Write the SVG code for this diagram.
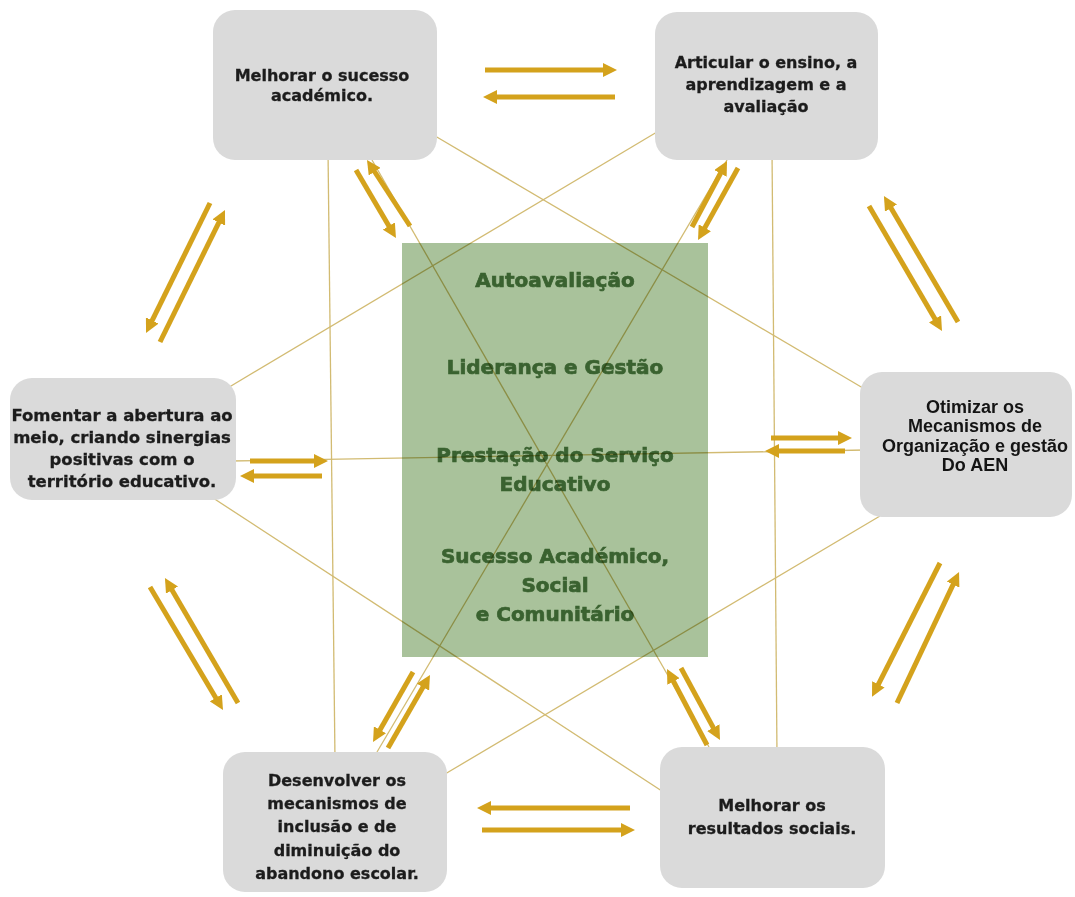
<svg xmlns="http://www.w3.org/2000/svg" width="1075" height="897" viewBox="0 0 1075 897">
  <defs>
    <marker id="head" markerUnits="userSpaceOnUse" viewBox="0 0 14 14" refX="5" refY="7" markerWidth="14" markerHeight="14" orient="auto">
      <path d="M0,0 L14,7 L0,14 z" fill="#d4a21c"/>
    </marker>
  </defs>
  <style>
    .box { fill: #dadada; }
    .core { fill: #a9c29b; }
    .lbl { font-family: "DejaVu Sans", Verdana, sans-serif; font-weight: bold; font-size: 16px; fill: #1c1c1c; stroke: #1c1c1c; stroke-width: 0.3; text-anchor: middle; }
    .lbl2 { font-family: "Liberation Sans", Arial, sans-serif; font-weight: bold; font-size: 18px; fill: #141414; text-anchor: middle; }
    .core-lbl { font-family: "DejaVu Sans", Verdana, sans-serif; font-weight: bold; font-size: 20px; fill: #3a6230; stroke: #3a6230; stroke-width: 0.7; text-anchor: middle; }
    .link { stroke: #d2bb72; stroke-width: 1.3; fill: none; }
    .arrow { stroke: #d4a21c; stroke-width: 5; fill: none; marker-end: url(#head); }
  </style>

  <rect width="1075" height="897" fill="#ffffff"/>

  <!-- central block -->
  <g id="center">
    <rect class="core" x="402" y="243" width="306" height="414"/>
    <text class="core-lbl" x="555" y="287">Autoavaliação</text>
    <text class="core-lbl" x="555" y="374">Liderança e Gestão</text>
    <text class="core-lbl" x="555" y="462">Prestação do Serviço</text>
    <text class="core-lbl" x="555" y="491">Educativo</text>
    <text class="core-lbl" x="555" y="563">Sucesso Académico,</text>
    <text class="core-lbl" x="555" y="592">Social</text>
    <text class="core-lbl" x="555" y="621">e Comunitário</text>
  </g>

  <!-- thin links between the objectives -->
  <g id="connectors" style="mix-blend-mode: multiply">
    <line class="link" x1="328" y1="150" x2="335" y2="760"/>
    <line class="link" x1="772" y1="150" x2="777" y2="755"/>
    <line class="link" x1="430" y1="133" x2="868" y2="391"/>
    <line class="link" x1="662" y1="129" x2="226" y2="389"/>
    <line class="link" x1="230" y1="461" x2="866" y2="450"/>
    <line class="link" x1="210" y1="496" x2="668" y2="795"/>
    <line class="link" x1="440" y1="777" x2="880" y2="516"/>
    <line class="link" x1="372" y1="160" x2="709" y2="747"/>
    <line class="link" x1="727" y1="160" x2="377" y2="752"/>
  </g>

  <g id="n1">
    <rect class="box" x="213" y="10" width="224" height="150" rx="22"/>
    <text class="lbl" x="322" y="81">Melhorar o sucesso</text>
    <text class="lbl" x="322" y="101">académico.</text>
  </g>
  <g id="n2">
    <rect class="box" x="655" y="12" width="223" height="148" rx="22"/>
    <text class="lbl" x="766" y="68">Articular o ensino, a</text>
    <text class="lbl" x="766" y="90">aprendizagem e a</text>
    <text class="lbl" x="766" y="112">avaliação</text>
  </g>
  <g id="n3">
    <rect class="box" x="10" y="378" width="226" height="122" rx="22"/>
    <text class="lbl" x="122" y="421" style="font-size:16.5px">Fomentar a abertura ao</text>
    <text class="lbl" x="122" y="443" style="font-size:16.5px">meio, criando sinergias</text>
    <text class="lbl" x="122" y="465" style="font-size:16.5px">positivas com o</text>
    <text class="lbl" x="122" y="487" style="font-size:16.5px">território educativo.</text>
  </g>
  <g id="n4">
    <rect class="box" x="860" y="372" width="212" height="145" rx="22"/>
    <text class="lbl2" x="975" y="413">Otimizar os</text>
    <text class="lbl2" x="975" y="432">Mecanismos de</text>
    <text class="lbl2" x="975" y="452">Organização e gestão</text>
    <text class="lbl2" x="975" y="471">Do AEN</text>
  </g>
  <g id="n5">
    <rect class="box" x="223" y="752" width="224" height="140" rx="22"/>
    <text class="lbl" x="337" y="786">Desenvolver os</text>
    <text class="lbl" x="337" y="809">mecanismos de</text>
    <text class="lbl" x="337" y="832">inclusão e de</text>
    <text class="lbl" x="337" y="856">diminuição do</text>
    <text class="lbl" x="337" y="879">abandono escolar.</text>
  </g>
  <g id="n6">
    <rect class="box" x="660" y="747" width="225" height="141" rx="22"/>
    <text class="lbl" x="772" y="811">Melhorar os</text>
    <text class="lbl" x="772" y="834">resultados sociais.</text>
  </g>

  <!-- paired arrows between neighbouring objectives -->
  <g id="arrows">
    <line class="arrow" x1="485" y1="70" x2="608" y2="70"/>
    <line class="arrow" x1="615" y1="97" x2="492" y2="97"/>
    <line class="arrow" x1="356" y1="170" x2="391.4" y2="230.3"/>
    <line class="arrow" x1="410" y1="226" x2="371.9" y2="167.5"/>
    <line class="arrow" x1="692" y1="227" x2="722.8" y2="169"/>
    <line class="arrow" x1="738" y1="168" x2="702.4" y2="232.1"/>
    <line class="arrow" x1="958" y1="322" x2="888.5" y2="203.8"/>
    <line class="arrow" x1="869" y1="206" x2="937.5" y2="323.2"/>
    <line class="arrow" x1="210" y1="203" x2="150" y2="324.9"/>
    <line class="arrow" x1="160" y1="342" x2="221" y2="218.1"/>
    <line class="arrow" x1="250" y1="461" x2="319" y2="461"/>
    <line class="arrow" x1="322" y1="476" x2="249" y2="476"/>
    <line class="arrow" x1="771" y1="438" x2="843" y2="438"/>
    <line class="arrow" x1="845" y1="451" x2="774" y2="451"/>
    <line class="arrow" x1="150" y1="587" x2="218.4" y2="702.2"/>
    <line class="arrow" x1="238" y1="703" x2="169.5" y2="585.8"/>
    <line class="arrow" x1="413" y1="672" x2="377.5" y2="734.2"/>
    <line class="arrow" x1="388" y1="748" x2="425.5" y2="682.8"/>
    <line class="arrow" x1="707" y1="745" x2="671.2" y2="677"/>
    <line class="arrow" x1="681" y1="668" x2="715.7" y2="732.1"/>
    <line class="arrow" x1="940" y1="563" x2="876.1" y2="688.8"/>
    <line class="arrow" x1="897" y1="703" x2="955.2" y2="580.1"/>
    <line class="arrow" x1="630" y1="808" x2="486" y2="808"/>
    <line class="arrow" x1="482" y1="830" x2="626" y2="830"/>
  </g>
</svg>
